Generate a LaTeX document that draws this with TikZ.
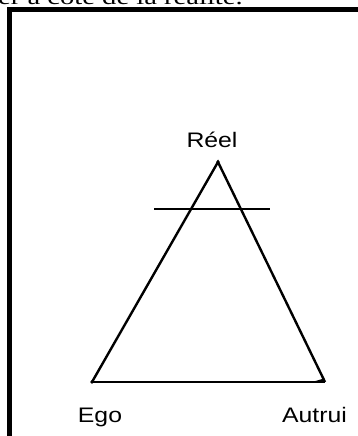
\documentclass[tikz,border=0pt]{standalone}
\usepackage{fontspec}
\setmainfont{Liberation Sans}
\newfontfamily\serifface{Liberation Serif}
\tikzset{
  px/.style={x=1pt,y=-1pt},
  frameline/.style={line width=5pt},
  edge/.style={line width=2.4pt},
  lbl/.style={inner sep=0pt,anchor=base,font=\fontsize{21}{23}\selectfont},
  toptext/.style={inner sep=0pt,anchor=base west,font=\serifface\fontsize{22}{24}\selectfont}
}
\newcommand{\wide}[1]{\scalebox{1.18}[1]{#1}}
\newcommand{\widetop}[1]{\scalebox{1.3}[1]{#1}}
\begin{document}
\begin{tikzpicture}[px]
\useasboundingbox (0,0) rectangle (358,436);
\clip (0,0) rectangle (358,436);
\fill[white] (0,0) rectangle (358,436);
% cut-off text at top
\node[toptext] (cut) at (-2,4.5) {\widetop{er à côté de la réalité.}};
% frame
\coordinate (fb) at (9.5,460);
\coordinate (fc) at (9.5,9.5);
\coordinate (fr) at (380,9.5);
\draw[frameline] (fb) -- (fc) -- (fr);
% triangle
\coordinate (R) at (218,162);
\coordinate (E) at (92,382);
\coordinate (A) at (325,382);
\draw[edge,line join=miter] (E) -- (R) -- (A);
\draw[edge] (E) -- (A);
\fill (R) circle (1.8);
\fill (E) circle (1.8);
\coordinate (w1) at (312,382);
\coordinate (w2) at (324,378.5);
\fill (w1) -- (w2) -- ([yshift=1.2pt]A) -- cycle;
% horizontal bar
\coordinate (h1) at (154,209);
\coordinate (h2) at (270,209);
\draw[edge] (h1) -- (h2);
% labels
\node[lbl] (reel) at (212,147) {\wide{Réel}};
\node[lbl] (ego) at (100,422) {\wide{Ego}};
\node[lbl] (autrui) at (314.5,422) {\wide{Autrui}};
\end{tikzpicture}
\end{document}
